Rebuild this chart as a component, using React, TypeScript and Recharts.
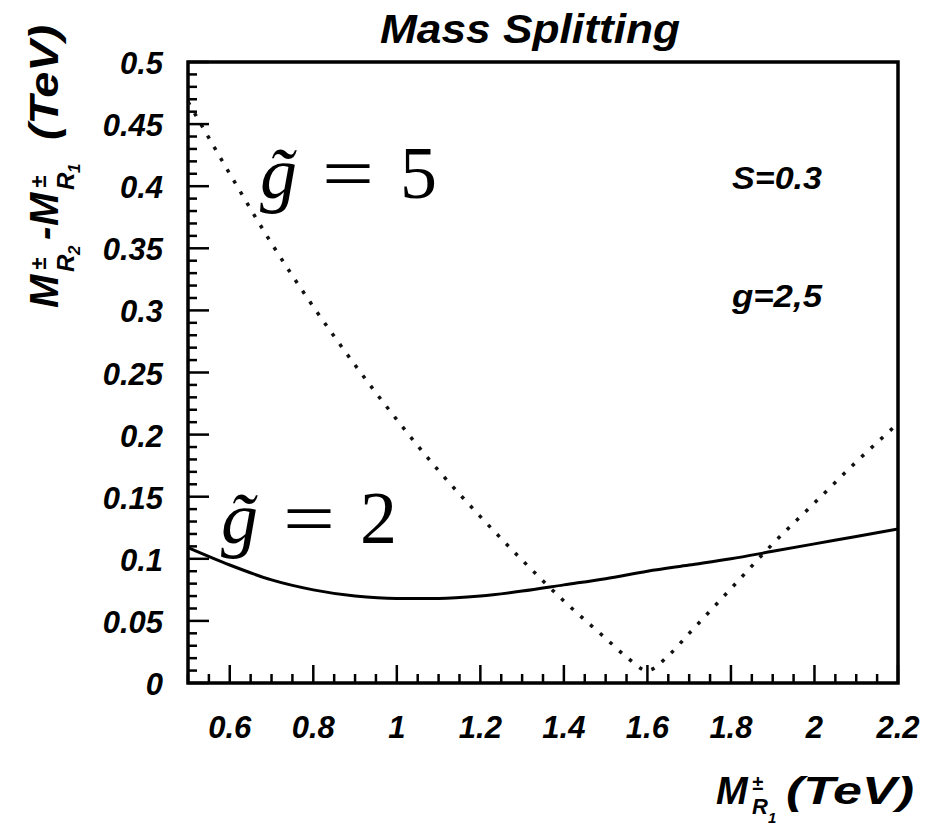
import React from 'react';
import { LineChart, Line, XAxis, YAxis, ReferenceArea } from 'recharts';

// g~ = 2 (solid)
const g2X = [0.5, 0.6, 0.7, 0.8, 0.9, 1.0, 1.1, 1.2, 1.3, 1.4, 1.5, 1.6, 1.7, 1.8, 1.9, 2.0, 2.1, 2.2];
const g2Y = [0.109, 0.095, 0.083, 0.075, 0.070, 0.068, 0.068, 0.070, 0.074, 0.079, 0.084, 0.090, 0.095, 0.100, 0.106, 0.112, 0.118, 0.124];

// g~ = 5 (dotted)
const g5X = [0.5, 0.6, 0.7, 0.8, 0.9, 1.0, 1.1, 1.2, 1.3, 1.4, 1.5, 1.55, 1.6, 1.65, 1.7, 1.8, 1.9, 2.0, 2.1, 2.2];
const g5Y = [0.468, 0.410, 0.354, 0.303, 0.256, 0.212, 0.171, 0.134, 0.099, 0.066, 0.036, 0.021, 0.010, 0.022, 0.040, 0.076, 0.112, 0.145, 0.178, 0.209];

const xTickLabels = [0.6, 0.8, 1, 1.2, 1.4, 1.6, 1.8, 2, 2.2];
const yTickLabels = [0, 0.05, 0.1, 0.15, 0.2, 0.25, 0.3, 0.35, 0.4, 0.45, 0.5];

const X_MIN = 0.5;
const X_MAX = 2.2;
const Y_MIN = 0;
const Y_MAX = 0.5;

const g2Data = g2X.map((x, i) => ({ x, y: g2Y[i] }));
const g5Data = g5X.map((x, i) => ({ x, y: g5Y[i] }));

const makeTicks = (min: number, max: number, step: number) => {
  const out: number[] = [];
  const n = Math.round((max - min) / step);
  for (let i = 0; i <= n; i++) out.push(Math.round((min + i * step) * 1000) / 1000);
  return out;
};
const xAllTicks = makeTicks(X_MIN, X_MAX, 0.05);
const yAllTicks = makeTicks(Y_MIN, Y_MAX, 0.01);

const isIn = (arr: number[], v: number) => arr.some((t) => Math.abs(t - v) < 1e-6);
const SANS = '"Liberation Sans", Arial, sans-serif';
const SERIF = '"Liberation Serif", "DejaVu Serif", serif';

const renderXTick = (props: any) => {
  const { x, y, payload } = props;
  const v = payload.value;
  const major = isIn(xTickLabels, v);
  return (
    <g key={`xt-${v}`}>
      <line x1={x} x2={x} y1={y} y2={y - (major ? 18 : 9)} stroke="#000" strokeWidth={2.5} />
      {major && (
        <text x={x} y={y + 55} textAnchor="middle" fontFamily={SANS} fontStyle="italic" fontWeight="bold" fontSize={31} fill="#000">
          {String(v)}
        </text>
      )}
    </g>
  );
};

const renderYTick = (props: any) => {
  const { x, y, payload } = props;
  const v = payload.value;
  const major = isIn(yTickLabels, v);
  return (
    <g key={`yt-${v}`}>
      <line x1={x} x2={x + (major ? 21 : 9)} y1={y} y2={y} stroke="#000" strokeWidth={2.5} />
      {major && (
        <text x={x - 25} y={y + 12} textAnchor="end" fontFamily={SANS} fontStyle="italic" fontWeight="bold" fontSize={31} fill="#000">
          {String(v)}
        </text>
      )}
    </g>
  );
};

const W = 942;
const H = 829;

export default function App() {
  return (
    <div style={{ position: 'absolute', left: 0, top: 0, width: W, height: H, background: '#fff' }}>
      <LineChart
        width={W}
        height={H}
        margin={{ top: 62, left: 187, right: 44, bottom: 145 }}
      >
        <XAxis
          dataKey="x"
          type="number"
          domain={[X_MIN, X_MAX]}
          ticks={xAllTicks}
          interval={0}
          height={1}
          tickSize={0}
          tickMargin={0}
          axisLine={false}
          tickLine={false}
          tick={renderXTick}
          allowDataOverflow
        />
        <YAxis
          type="number"
          domain={[Y_MIN, Y_MAX]}
          ticks={yAllTicks}
          interval={0}
          width={1}
          tickSize={0}
          tickMargin={0}
          axisLine={false}
          tickLine={false}
          tick={renderYTick}
          allowDataOverflow
        />
        <Line
          data={g2Data}
          dataKey="y"
          type="monotone"
          stroke="#000"
          strokeWidth={3}
          dot={false}
          isAnimationActive={false}
        />
        <Line
          data={g5Data}
          dataKey="y"
          type="monotone"
          stroke="#111"
          strokeWidth={3.5}
          strokeDasharray="3.5 9.5"
          dot={false}
          isAnimationActive={false}
        />
        <ReferenceArea x1={X_MIN} x2={X_MAX} y1={Y_MIN} y2={Y_MAX} fill="none" fillOpacity={0} stroke="#000" strokeWidth={3.5} strokeOpacity={1} />
      </LineChart>
      <svg width={W} height={H} style={{ position: 'absolute', left: 0, top: 0, pointerEvents: 'none' }}>
        {/* Title */}
        <text x={530} y={43} textAnchor="middle" fontFamily={SANS} fontStyle="italic" fontWeight="bold" fontSize={40} textLength={300} lengthAdjust="spacingAndGlyphs" fill="#000">
          Mass Splitting
        </text>
        {/* Annotations */}
        <text x={732} y={189} fontFamily={SANS} fontStyle="italic" fontWeight="bold" fontSize={31} textLength={90} lengthAdjust="spacingAndGlyphs" fill="#000">S=0.3</text>
        <text x={732} y={307} fontFamily={SANS} fontStyle="italic" fontWeight="bold" fontSize={31} textLength={90} lengthAdjust="spacingAndGlyphs" fill="#000">g=2,5</text>
        {/* g~ = 5 */}
        <g fontFamily={SERIF} fontSize={74} fill="#000">
          <text x={260} y={198} fontStyle="italic">{'g\u0303'}</text>
          <text x={322} y={198} textLength={52} lengthAdjust="spacingAndGlyphs">=</text>
          <text x={400} y={198}>5</text>
        </g>
        {/* g~ = 2 */}
        <g fontFamily={SERIF} fontSize={74} fill="#000">
          <text x={221} y={543} fontStyle="italic">{'g\u0303'}</text>
          <text x={283} y={543} textLength={52} lengthAdjust="spacingAndGlyphs">=</text>
          <text x={360} y={543}>2</text>
        </g>
        {/* X axis title */}
        <g fontFamily={SANS} fontStyle="italic" fontWeight="bold" fill="#000">
          <text x={716} y={804} fontSize={38}>M</text>
          <text x={752} y={790} fontSize={20}>±</text>
          <text x={752} y={814} fontSize={22}>R</text>
          <text x={768} y={823} fontSize={15}>1</text>
          <text x={786} y={804} fontSize={38} textLength={128} lengthAdjust="spacingAndGlyphs">(TeV)</text>
        </g>
        {/* Y axis title */}
        <g transform="translate(58,308) rotate(-90)" fontFamily={SANS} fontStyle="italic" fontWeight="bold" fill="#000">
          <text x={0} y={0} fontSize={40}>M</text>
          <text x={38} y={-12} fontSize={22}>±</text>
          <text x={36} y={16} fontSize={24}>R</text>
          <text x={53} y={22} fontSize={17}>2</text>
          <text x={68} y={0} fontSize={40}>-</text>
          <text x={82} y={0} fontSize={40}>M</text>
          <text x={120} y={-12} fontSize={22}>±</text>
          <text x={118} y={16} fontSize={24}>R</text>
          <text x={135} y={22} fontSize={17}>1</text>
          <text x={168} y={0} fontSize={40} textLength={115} lengthAdjust="spacingAndGlyphs">(TeV)</text>
        </g>
      </svg>
    </div>
  );
}
